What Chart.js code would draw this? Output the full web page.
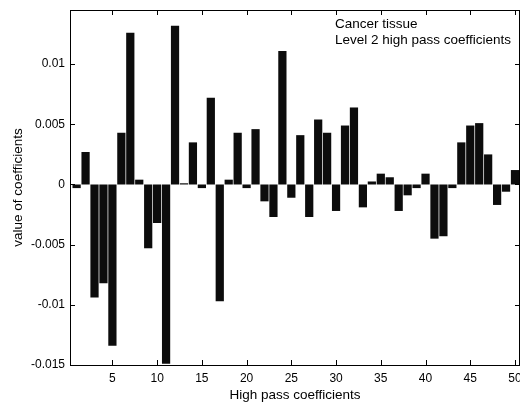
<!DOCTYPE html>
<html>
<head>
<meta charset="utf-8">
<script src="https://cdn.jsdelivr.net/npm/chart.js@4/dist/chart.umd.min.js"></script>
<style>
  html, body { margin: 0; padding: 0; background: #fff; }
  canvas { display: block; }
</style>
</head>
<body>
<canvas id="c" width="520" height="406"></canvas>
<script>
// coefficient index 1..50
const coefIndex = [];
for (let i = 1; i <= 50; i++) coefIndex.push(i);

// values
const coefValues = [
  -0.0003, 0.0027, -0.0094, -0.0082, -0.0134, 0.0043, 0.0126, 0.0004, -0.0053, -0.0032,
  -0.0149, 0.0132, 0.0001, 0.0035, -0.0003, 0.0072, -0.0097, 0.0004, 0.0043, -0.0003,
  0.0046, -0.0014, -0.0027, 0.0111, -0.0011, 0.0041, -0.0027, 0.0054, 0.0043, -0.0022,
  0.0049, 0.0064, -0.0019, 0.00025, 0.0009, 0.0006, -0.0022, -0.0009, -0.0003, 0.0009,
  -0.0045, -0.0043, -0.0003, 0.0035, 0.0049, 0.0051, 0.0025, -0.0017, -0.0006, 0.0012
];

const xTicks = [5, 10, 15, 20, 25, 30, 35, 40, 45, 50];
const yTicks = [-0.015, -0.01, -0.005, 0, 0.005, 0.01];
const noteLines = ["Cancer tissue", "Level 2 high pass coefficients"];

const FONT = "Liberation Sans, Arial, sans-serif";

// box round the plot with inward ticks, plus the note text
const boxPlugin = {
  id: "box",
  afterDraw(chart) {
    const ctx = chart.ctx;
    const a = chart.chartArea;
    const xs = chart.scales.x, ys = chart.scales.y;
    ctx.save();
    ctx.strokeStyle = "#000";
    ctx.lineWidth = 1;
    ctx.strokeRect(a.left + 0.5, a.top + 0.5, a.right - a.left - 1, a.bottom - a.top);
    ctx.beginPath();
    xTicks.forEach(v => {
      const px = Math.round(xs.getPixelForValue(v)) + 0.5;
      ctx.moveTo(px, a.bottom); ctx.lineTo(px, a.bottom - 5);
      ctx.moveTo(px, a.top); ctx.lineTo(px, a.top + 5);
    });
    yTicks.forEach(v => {
      const py = Math.round(ys.getPixelForValue(v)) + 0.5;
      ctx.moveTo(a.left, py); ctx.lineTo(a.left + 5, py);
      ctx.moveTo(a.right, py); ctx.lineTo(a.right - 5, py);
    });
    ctx.stroke();

    ctx.fillStyle = "#000";
    ctx.font = "13.5px " + FONT;
    ctx.textBaseline = "middle";
    ctx.textAlign = "left";
    ctx.fillText(noteLines[0], 335, 24);
    ctx.fillText(noteLines[1], 335, 40);
    ctx.restore();
  }
};

new Chart(document.getElementById("c"), {
  type: "bar",
  data: {
    datasets: [{
      data: coefIndex.map((x, i) => ({ x: x, y: coefValues[i] })),
      backgroundColor: "#0c0c0c",
      borderWidth: 0,
      barPercentage: 0.92,
      categoryPercentage: 1.0
    }]
  },
  options: {
    responsive: false,
    animation: false,
    devicePixelRatio: 1,
    layout: { padding: { top: 10, right: 0, left: 0, bottom: 0 } },
    plugins: { legend: { display: false }, tooltip: { enabled: false } },
    scales: {
      x: {
        type: "linear",
        offset: false,
        min: 0.26,
        max: 50.56,
        grid: { display: false, drawTicks: false, offset: false },
        border: { display: false },
        afterBuildTicks(s) { s.ticks = xTicks.map(v => ({ value: v })); },
        afterFit(s) { s.height = 41; s.paddingLeft = 0; s.paddingRight = 0; },
        ticks: {
          color: "#000",
          padding: 6,
          maxRotation: 0,
          autoSkip: false,
          font: { family: FONT, size: 12 }
        },
        title: {
          display: true,
          text: "High pass coefficients",
          color: "#000",
          padding: { top: 0, bottom: 3 },
          font: { family: FONT, size: 13.5 }
        }
      },
      y: {
        min: -0.015,
        max: 0.0145,
        grid: { display: false, drawTicks: false },
        border: { display: false },
        afterBuildTicks(s) { s.ticks = yTicks.map(v => ({ value: v })); },
        afterFit(s) { s.width = 70; s.paddingTop = 0; s.paddingBottom = 0; },
        ticks: {
          color: "#000",
          padding: 5,
          font: { family: FONT, size: 12 },
          callback: v => String(v)
        },
        title: {
          display: true,
          text: "value of coefficients",
          color: "#000",
          padding: { top: 10, bottom: 0 },
          font: { family: FONT, size: 13.5 }
        }
      }
    }
  },
  plugins: [boxPlugin]
});
</script>
</body>
</html>
